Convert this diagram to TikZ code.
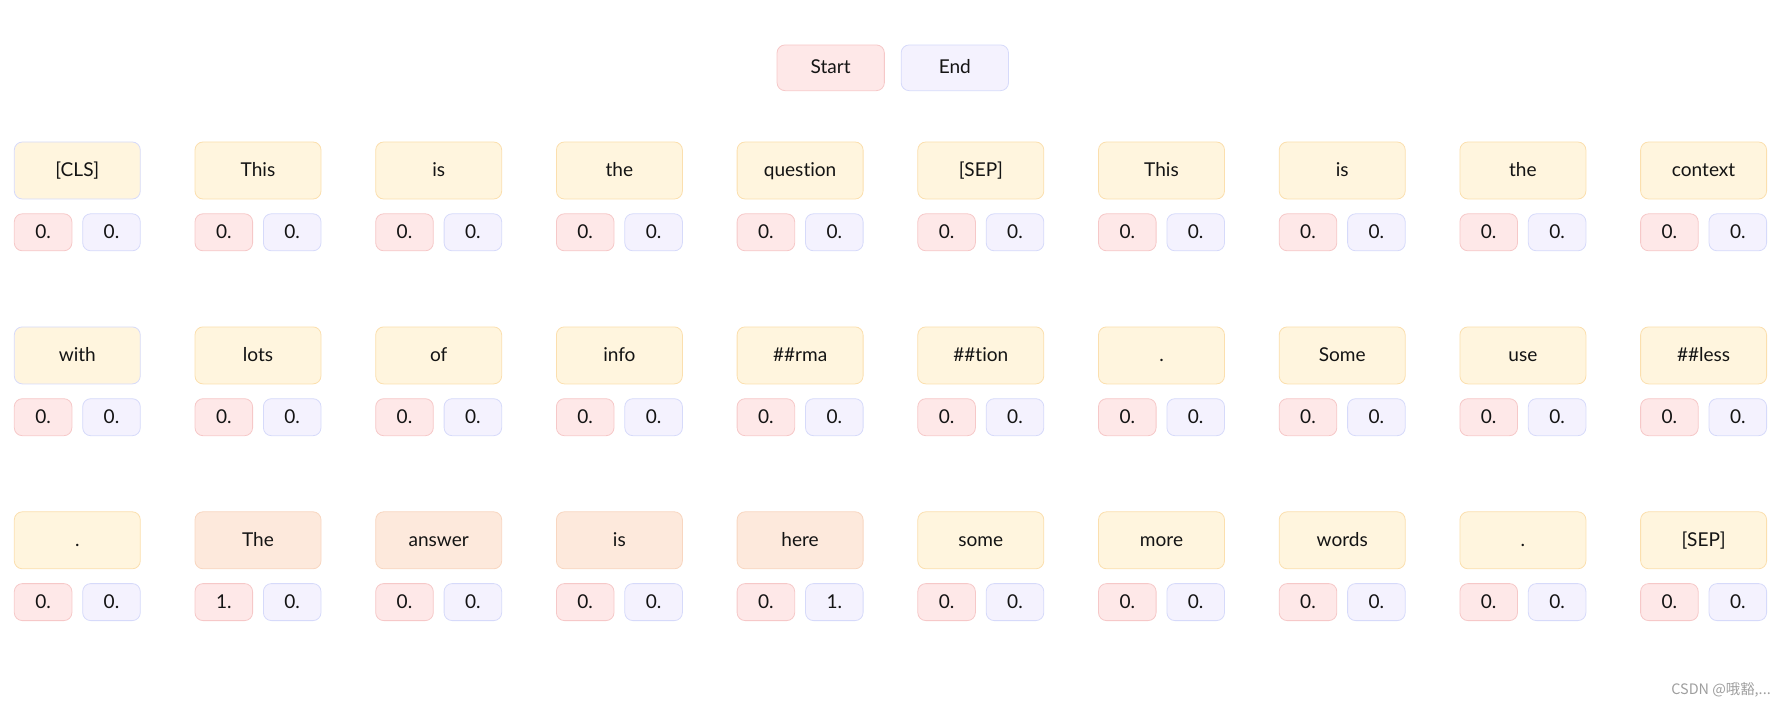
\documentclass[tikz,border=0pt]{standalone}
\usepackage{fontspec}
\setmainfont{Lato}[Ligatures=NoCommon]
\newfontfamily\cjk{Noto Sans CJK SC}
\usepackage{xcolor}
\usetikzlibrary{positioning}
\definecolor{tokfill}{HTML}{FFF5DE}
\definecolor{tokline}{HTML}{FBDFAE}
\definecolor{ansfill}{HTML}{FDE9DC}
\definecolor{ansline}{HTML}{F8D6C0}
\definecolor{stfill}{HTML}{FEE8E8}
\definecolor{stline}{HTML}{F6C8C8}
\definecolor{enfill}{HTML}{F4F2FE}
\definecolor{enline}{HTML}{D6DAFA}
\definecolor{inktext}{HTML}{141414}
\tikzset{
  cell/.style={
    rectangle,
    rounded corners=6pt,
    line width=0.6pt,
    inner sep=0pt,
    text=inktext,
    font=\fontsize{14.3}{16}\selectfont,
    text height=12pt, text depth=3pt,
    text centered},
  tokbox/.style={cell, fill=tokfill, draw=tokline,
    minimum width=94.5pt, minimum height=42.75pt},
  clsbox/.style={tokbox, draw=enline},
  ansbox/.style={tokbox, fill=ansfill, draw=ansline},
  startval/.style={cell, fill=stfill, draw=stline,
    minimum width=43.2pt, minimum height=27.75pt},
  endval/.style={cell, fill=enfill, draw=enline,
    minimum width=43.2pt, minimum height=27.75pt},
  startbox/.style={cell, fill=stfill, draw=stline,
    minimum width=80.5pt, minimum height=34.3pt},
  endbox/.style={cell, fill=enfill, draw=enline,
    minimum width=80.5pt, minimum height=34.3pt},
  watermark/.style={text=black!38, inner sep=0pt,
    font=\cjk\fontsize{10.8}{12}\selectfont},
}

\begin{document}
\begin{tikzpicture}[x=0.75pt, y=-0.75pt]
    \useasboundingbox (0,0) rectangle (1784,706);

    \node[startbox] (start) at (830.7,67.8) {Start};
    \node[endbox, right=12pt of start] (end) {End};

    % first row
    \foreach \w/\sty/\s/\e [count=\c from 0] in {
        {[CLS]}/clsbox/0./0., This/tokbox/0./0., is/tokbox/0./0.,
        the/tokbox/0./0., question/tokbox/0./0., {[SEP]}/tokbox/0./0.,
        This/tokbox/0./0., is/tokbox/0./0., the/tokbox/0./0.,
        context/tokbox/0./0.}
    {
        \node[\sty] (tok-1-\c) at (77.3+180.7*\c,170.5) {\w};
        \node[startval, below=10.5pt of tok-1-\c.south west, anchor=north west] (st-1-\c) {\s};
        \node[endval, below=10.5pt of tok-1-\c.south east, anchor=north east] (en-1-\c) {\e};
    }

    % second row
    \foreach \w/\sty/\s/\e [count=\c from 0] in {
        with/clsbox/0./0., lots/tokbox/0./0., of/tokbox/0./0.,
        info/tokbox/0./0., \#\#rma/tokbox/0./0., \#\#tion/tokbox/0./0.,
        ./tokbox/0./0., Some/tokbox/0./0., use/tokbox/0./0.,
        \#\#less/tokbox/0./0.}
    {
        \node[\sty] (tok-2-\c) at (77.3+180.7*\c,355.4) {\w};
        \node[startval, below=10.5pt of tok-2-\c.south west, anchor=north west] (st-2-\c) {\s};
        \node[endval, below=10.5pt of tok-2-\c.south east, anchor=north east] (en-2-\c) {\e};
    }

    % third row
    \foreach \w/\sty/\s/\e [count=\c from 0] in {
        ./tokbox/0./0., The/ansbox/1./0., answer/ansbox/0./0.,
        is/ansbox/0./0., here/ansbox/0./1., some/tokbox/0./0.,
        more/tokbox/0./0., words/tokbox/0./0., ./tokbox/0./0.,
        {[SEP]}/tokbox/0./0.}
    {
        \node[\sty] (tok-3-\c) at (77.3+180.7*\c,540.3) {\w};
        \node[startval, below=10.5pt of tok-3-\c.south west, anchor=north west] (st-3-\c) {\s};
        \node[endval, below=10.5pt of tok-3-\c.south east, anchor=north east] (en-3-\c) {\e};
    }

    \node[watermark, anchor=east] (csdn) at (1771,690) {CSDN @哦豁,...};

\end{tikzpicture}
\end{document}
